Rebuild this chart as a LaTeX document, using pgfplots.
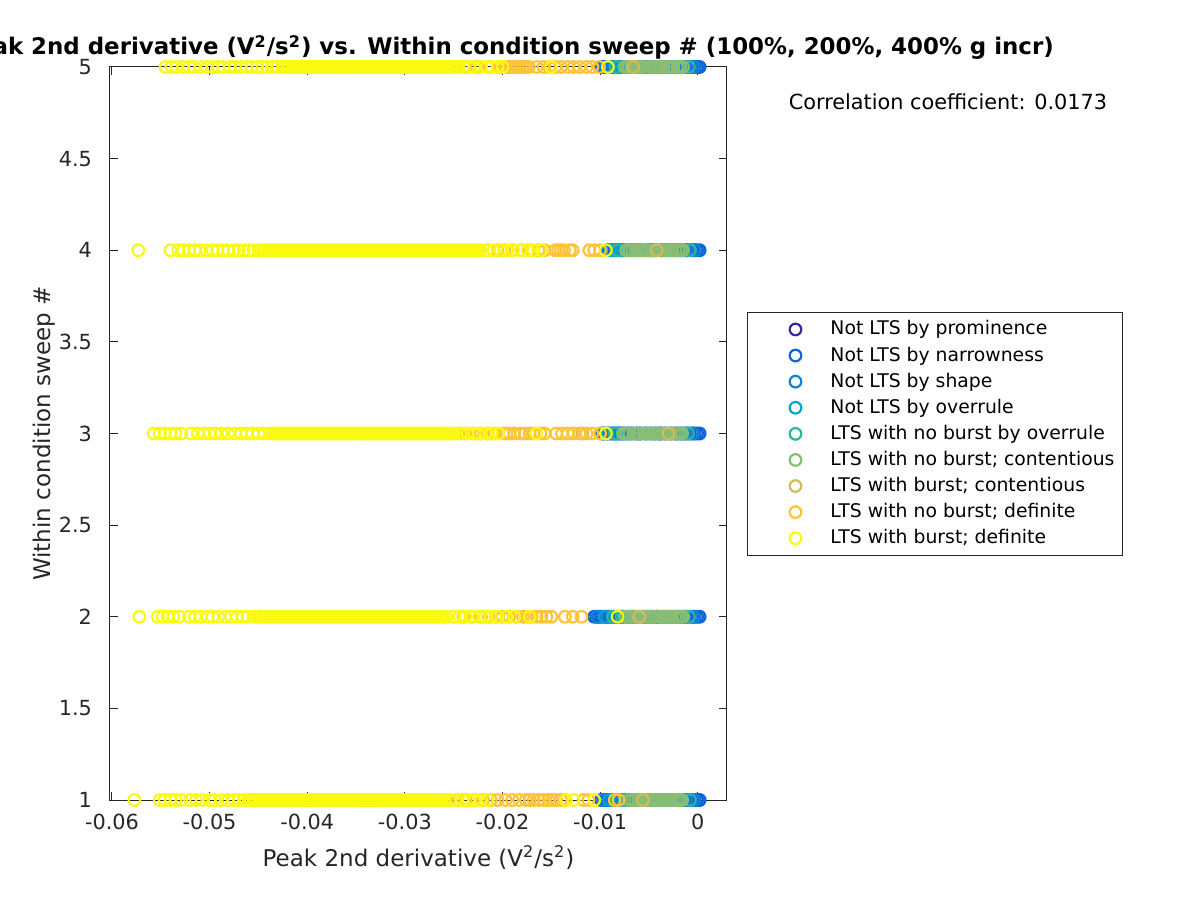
\documentclass[border=0pt]{standalone}
\usepackage{fontspec}
\setmainfont{DejaVu Sans}
\usepackage{pgfplots}
\pgfplotsset{compat=1.18}
\definecolor{c1}{HTML}{3E26A8}
\definecolor{c2}{HTML}{0A64DC}
\definecolor{c3}{HTML}{1482D4}
\definecolor{c4}{HTML}{06A4CA}
\definecolor{c5}{HTML}{2DB5A0}
\definecolor{c6}{HTML}{87BE73}
\definecolor{c7}{HTML}{D2BA5A}
\definecolor{c8}{HTML}{FEC337}
\definecolor{c9}{HTML}{F9FA0F}
\definecolor{axc}{HTML}{262626}
\pgfplotsset{sc/.style={only marks, mark=o, mark size=2.9pt, line width=1.1pt, color=#1,
  mark options={draw=#1, fill=none, line width=1.1pt, solid},
  legend image code/.code={\path[draw=none,fill=none] (0pt,-4pt) rectangle (37.5pt,4pt); \draw[##1] plot coordinates {(20pt,0pt)};}}}
\begin{document}
\begin{tikzpicture}
\begin{axis}[name=ax, scale only axis, width=308.5pt, height=366.5pt,
  xmin=-0.0602, xmax=0.003, ymin=1, ymax=5, clip=false,
  scaled x ticks=false, scaled y ticks=false,
  xtick={-0.06,-0.05,-0.04,-0.03,-0.02,-0.01,0},
  xticklabels={-0.06,-0.05,-0.04,-0.03,-0.02,-0.01,0},
  ytick={1,1.5,2,2.5,3,3.5,4,4.5,5},
  yticklabels={1,1.5,2,2.5,3,3.5,4,4.5,5},
  tick align=inside, major tick length=4pt,
  tick style={axc, line width=0.5pt}, axis line style={axc, line width=0.5pt},
  ticklabel style={font=\fontsize{10.4}{12}\selectfont, text=axc},
  xticklabel style={yshift=-3.5pt}, yticklabel style={xshift=-5.5pt},
  legend cell align=left,
  legend style={at={(1.0324,0.6658)}, anchor=north west, draw=axc, line width=0.5pt,
    inner xsep=4pt, inner ysep=3.75pt, row sep=3.55pt,
    nodes={inner sep=0pt, text height=7.5pt, text depth=2pt},
    font=\fontsize{9.4}{11}\selectfont},
]
\addplot[sc=c1] coordinates {(-0.0055,5)(-0.0047,4)(-0.0060,3)(-0.0042,2)(-0.0034,1)(-0.0028,4)(-0.0038,3)};
\addlegendentry{Not LTS by prominence}
\addplot[sc=c2] coordinates {
(-0.0098,5)(-0.00955,5)(-0.0093,5)(-0.00905,5)(-0.0088,5)(-0.00855,5)(-0.0083,5)(-0.00805,5)(-0.0078,5)(-0.00755,5)(-0.0073,5)(-0.0068,5)(-0.0063,5)(-0.0058,5)(-0.0053,5)(-0.0048,5)(-0.0043,5)(-0.0038,5)(-0.0033,5)(-0.0028,5)(-0.0023,5)(-0.0018,5)(-0.00155,5)(-0.0013,5)(-0.00105,5)(-0.0008,5)(-0.00055,5)(-0.0003,5)(-0.00005,5)(0.0002,5)
(-0.0093,4)(-0.00905,4)(-0.0088,4)(-0.00855,4)(-0.0083,4)(-0.00805,4)(-0.0078,4)(-0.00755,4)(-0.0073,4)(-0.0068,4)(-0.0063,4)(-0.0058,4)(-0.0053,4)(-0.0048,4)(-0.0043,4)(-0.0038,4)(-0.0033,4)(-0.0028,4)(-0.0023,4)(-0.0018,4)(-0.00155,4)(-0.0013,4)(-0.00105,4)(-0.0008,4)(-0.00055,4)(-0.0003,4)(-0.00005,4)(0.0002,4)
(-0.0098,3)(-0.00955,3)(-0.0093,3)(-0.00905,3)(-0.0088,3)(-0.00855,3)(-0.0083,3)(-0.00805,3)(-0.0078,3)(-0.00755,3)(-0.0073,3)(-0.0068,3)(-0.0063,3)(-0.0058,3)(-0.0053,3)(-0.0048,3)(-0.0043,3)(-0.0038,3)(-0.0033,3)(-0.0028,3)(-0.0023,3)(-0.0018,3)(-0.00155,3)(-0.0013,3)(-0.00105,3)(-0.0008,3)(-0.00055,3)(-0.0003,3)(-0.00005,3)(0.0002,3)
(-0.0106,2)(-0.01035,2)(-0.0101,2)(-0.00985,2)(-0.0096,2)(-0.00935,2)(-0.0091,2)(-0.00885,2)(-0.0086,2)(-0.00835,2)(-0.0081,2)(-0.00785,2)(-0.0076,2)(-0.0071,2)(-0.0066,2)(-0.0061,2)(-0.0056,2)(-0.0051,2)(-0.0046,2)(-0.0041,2)(-0.0036,2)(-0.0031,2)(-0.0026,2)(-0.0021,2)(-0.0018,2)(-0.00155,2)(-0.0013,2)(-0.00105,2)(-0.0008,2)(-0.00055,2)(-0.0003,2)(-0.00005,2)(0.0002,2)
(-0.0099,1)(-0.00965,1)(-0.0094,1)(-0.00915,1)(-0.0089,1)(-0.00865,1)(-0.0084,1)(-0.00815,1)(-0.0079,1)(-0.00765,1)(-0.0074,1)(-0.0069,1)(-0.0064,1)(-0.0059,1)(-0.0054,1)(-0.0049,1)(-0.0044,1)(-0.0039,1)(-0.0034,1)(-0.0029,1)(-0.0024,1)(-0.0019,1)(-0.00155,1)(-0.0013,1)(-0.00105,1)(-0.0008,1)(-0.00055,1)(-0.0003,1)(-0.00005,1)(0.0002,1)
};
\addlegendentry{Not LTS by narrowness}
\addplot[sc=c3] coordinates {
(-0.0095,5)(-0.0086,5)(-0.0079,5)(-0.0066,5)(-0.0052,5)(-0.0039,5)(-0.0026,5)(-0.0012,5)(-0.0004,5)
(-0.0091,4)(-0.0084,4)(-0.0077,4)(-0.0064,4)(-0.0050,4)(-0.0037,4)(-0.0024,4)(-0.0011,4)(-0.0003,4)
(-0.0096,3)(-0.0087,3)(-0.0080,3)(-0.0067,3)(-0.0053,3)(-0.0040,3)(-0.0027,3)(-0.0013,3)(-0.0005,3)
(-0.0103,2)(-0.0093,2)(-0.0083,2)(-0.0068,2)(-0.0054,2)(-0.0041,2)(-0.0028,2)(-0.0014,2)(-0.0004,2)
(-0.0097,1)(-0.0088,1)(-0.0080,1)(-0.0065,1)(-0.0051,1)(-0.0038,1)(-0.0025,1)(-0.0012,1)(-0.0004,1)
};
\addlegendentry{Not LTS by shape}
\addplot[sc=c4] coordinates {
(-0.0090,5)(-0.0081,5)(-0.0070,5)(-0.0044,5)(-0.0021,5)
(-0.0088,4)(-0.0079,4)(-0.0069,4)(-0.0043,4)(-0.0020,4)
(-0.0092,3)(-0.0083,3)(-0.0071,3)(-0.0045,3)(-0.0022,3)
(-0.0095,2)(-0.0086,2)(-0.0072,2)(-0.0046,2)(-0.0023,2)
(-0.0091,1)(-0.0082,1)(-0.0070,1)(-0.0044,1)(-0.0021,1)
};
\addlegendentry{Not LTS by overrule}
\addplot[sc=c5] coordinates {
(-0.0084,5)(-0.0076,5)(-0.0061,5)(-0.0047,5)(-0.0031,5)(-0.0019,5)(-0.0009,5)
(-0.0082,4)(-0.0074,4)(-0.0060,4)(-0.0046,4)(-0.0030,4)(-0.0018,4)(-0.0008,4)
(-0.0085,3)(-0.0077,3)(-0.0062,3)(-0.0048,3)(-0.0032,3)(-0.0020,3)(-0.0010,3)
(-0.0087,2)(-0.0078,2)(-0.0063,2)(-0.0049,2)(-0.0033,2)(-0.0019,2)(-0.0009,2)
(-0.0083,1)(-0.0075,1)(-0.0060,1)(-0.0046,1)(-0.0031,1)(-0.0018,1)(-0.0008,1)
};
\addlegendentry{LTS with no burst by overrule}
\addplot[sc=c6] coordinates {
(-0.0074,5)(-0.0071,5)(-0.0068,5)(-0.0064,5)(-0.0061,5)(-0.0058,5)(-0.0055,5)(-0.0050,5)(-0.0047,5)(-0.0044,5)(-0.0041,5)(-0.0038,5)(-0.0035,5)(-0.0031,5)(-0.0028,5)(-0.0025,5)(-0.0021,5)(-0.0018,5)(-0.0015,5)
(-0.0073,4)(-0.0070,4)(-0.0067,4)(-0.0064,4)(-0.0060,4)(-0.0057,4)(-0.0054,4)(-0.0051,4)(-0.0048,4)(-0.0044,4)(-0.0041,4)(-0.0038,4)(-0.0035,4)(-0.0032,4)(-0.0029,4)(-0.0026,4)(-0.0023,4)(-0.0020,4)(-0.0017,4)(-0.0015,4)
(-0.0076,3)(-0.0073,3)(-0.0070,3)(-0.0066,3)(-0.0063,3)(-0.0060,3)(-0.0056,3)(-0.0053,3)(-0.0050,3)(-0.0046,3)(-0.0043,3)(-0.0040,3)(-0.0037,3)(-0.0034,3)(-0.0031,3)(-0.0027,3)(-0.0024,3)(-0.0021,3)(-0.0018,3)(-0.0016,3)
(-0.0074,2)(-0.0071,2)(-0.0068,2)(-0.0065,2)(-0.0062,2)(-0.0058,2)(-0.0055,2)(-0.0052,2)(-0.0048,2)(-0.0045,2)(-0.0041,2)(-0.0038,2)(-0.0035,2)(-0.0032,2)(-0.0029,2)(-0.0026,2)(-0.0023,2)(-0.0020,2)(-0.0017,2)(-0.0015,2)
(-0.0070,1)(-0.0067,1)(-0.0064,1)(-0.0061,1)(-0.0058,1)(-0.0054,1)(-0.0051,1)(-0.0048,1)(-0.0045,1)(-0.0042,1)(-0.0039,1)(-0.0036,1)(-0.0033,1)(-0.0030,1)(-0.0027,1)(-0.0024,1)(-0.0021,1)(-0.0018,1)(-0.0016,1)
};
\addlegendentry{LTS with no burst; contentious}
\addplot[sc=c7] coordinates {(-0.0066,5)(-0.0042,4)(-0.0030,3)(-0.0060,2)(-0.0056,1)(-0.0118,3)};
\addlegendentry{LTS with burst; contentious}
\addplot[sc=c8] coordinates {
(-0.0238,5)(-0.0226,5)(-0.0213,5)(-0.0203,5)(-0.0197,5)(-0.0194,5)(-0.0191,5)(-0.0188,5)(-0.0185,5)(-0.0182,5)(-0.0179,5)(-0.0176,5)(-0.0173,5)(-0.0165,5)(-0.0158,5)(-0.0152,5)(-0.0146,5)(-0.0140,5)(-0.0133,5)(-0.0127,5)(-0.0121,5)(-0.0114,5)(-0.0108,5)(-0.0101,5)
(-0.0215,4)(-0.0205,4)(-0.0198,4)(-0.0190,4)(-0.0180,4)(-0.0172,4)(-0.0163,4)(-0.0157,4)(-0.0146,4)(-0.0143,4)(-0.0140,4)(-0.0137,4)(-0.0131,4)(-0.0128,4)(-0.0111,4)(-0.0106,4)(-0.0100,4)
(-0.0245,3)(-0.0238,3)(-0.0230,3)(-0.0222,3)(-0.0215,3)(-0.0208,3)(-0.0199,3)(-0.0196,3)(-0.0193,3)(-0.0188,3)(-0.0181,3)(-0.0177,3)(-0.0172,3)(-0.0168,3)(-0.0161,3)(-0.0157,3)(-0.0145,3)(-0.0139,3)(-0.0133,3)(-0.0127,3)(-0.0121,3)(-0.0114,3)(-0.0108,3)(-0.0100,3)
(-0.0250,2)(-0.0240,2)(-0.0232,2)(-0.0222,2)(-0.0214,2)(-0.0207,2)(-0.0200,2)(-0.0193,2)(-0.0186,2)(-0.0179,2)(-0.0174,2)(-0.0170,2)(-0.0165,2)(-0.0160,2)(-0.0155,2)(-0.0150,2)(-0.0136,2)(-0.0128,2)(-0.0119,2)
(-0.0255,1)(-0.0246,1)(-0.0238,1)(-0.0229,1)(-0.0220,1)(-0.0212,1)(-0.0205,1)(-0.0197,1)(-0.0190,1)(-0.0183,1)(-0.0176,1)(-0.0172,1)(-0.0168,1)(-0.0163,1)(-0.0158,1)(-0.0153,1)(-0.0149,1)(-0.0145,1)(-0.0140,1)(-0.0136,1)(-0.0117,1)(-0.0112,1)(-0.0085,1)(-0.0081,1)
};
\addlegendentry{LTS with no burst; definite}
\addplot[sc=c9] coordinates {
(-0.0545,5)(-0.0539,5)(-0.0534,5)(-0.0527,5)(-0.0521,5)(-0.0516,5)(-0.0509,5)(-0.0503,5)(-0.0497,5)(-0.0491,5)(-0.0486,5)(-0.0479,5)(-0.0474,5)(-0.0468,5)(-0.0462,5)(-0.0457,5)(-0.0451,5)(-0.0446,5)(-0.0441,5)(-0.0436,5)(-0.0431,5)
(-0.0425,5)(-0.04225,5)(-0.042,5)(-0.04175,5)(-0.0415,5)(-0.04125,5)(-0.041,5)(-0.04075,5)(-0.0405,5)(-0.04025,5)(-0.04,5)(-0.03975,5)(-0.0395,5)(-0.03925,5)(-0.039,5)(-0.03875,5)(-0.0385,5)(-0.03825,5)(-0.038,5)(-0.03775,5)(-0.0375,5)(-0.03725,5)(-0.037,5)(-0.03675,5)(-0.0365,5)(-0.03625,5)(-0.036,5)(-0.03575,5)(-0.0355,5)(-0.03525,5)(-0.035,5)(-0.03475,5)(-0.0345,5)(-0.03425,5)(-0.034,5)(-0.03375,5)(-0.0335,5)(-0.03325,5)(-0.033,5)(-0.03275,5)(-0.0325,5)(-0.03225,5)(-0.032,5)(-0.03175,5)(-0.0315,5)(-0.03125,5)(-0.031,5)(-0.03075,5)(-0.0305,5)(-0.03025,5)(-0.03,5)(-0.02975,5)(-0.0295,5)(-0.02925,5)(-0.029,5)(-0.02875,5)(-0.0285,5)(-0.02825,5)(-0.028,5)(-0.02775,5)(-0.0275,5)(-0.02725,5)(-0.027,5)(-0.02675,5)(-0.0265,5)(-0.02625,5)(-0.026,5)(-0.02575,5)(-0.0255,5)(-0.02525,5)(-0.025,5)(-0.02475,5)(-0.0245,5)
(-0.0240,5)(-0.0234,5)(-0.0229,5)(-0.0222,5)(-0.0216,5)(-0.0211,5)(-0.0205,5)(-0.0200,5)(-0.0150,5)(-0.0092,5)
(-0.0573,4)(-0.0540,4)(-0.0532,4)(-0.0527,4)(-0.0521,4)(-0.0515,4)(-0.0510,4)(-0.0503,4)(-0.0497,4)(-0.0492,4)(-0.0486,4)(-0.0481,4)(-0.0475,4)(-0.0470,4)(-0.0465,4)(-0.0460,4)(-0.0455,4)
(-0.045,4)(-0.04475,4)(-0.0445,4)(-0.04425,4)(-0.044,4)(-0.04375,4)(-0.0435,4)(-0.04325,4)(-0.043,4)(-0.04275,4)
(-0.0425,4)(-0.04225,4)(-0.042,4)(-0.04175,4)(-0.0415,4)(-0.04125,4)(-0.041,4)(-0.04075,4)(-0.0405,4)(-0.04025,4)(-0.04,4)(-0.03975,4)(-0.0395,4)(-0.03925,4)(-0.039,4)(-0.03875,4)(-0.0385,4)(-0.03825,4)(-0.038,4)(-0.03775,4)(-0.0375,4)(-0.03725,4)(-0.037,4)(-0.03675,4)(-0.0365,4)(-0.03625,4)(-0.036,4)(-0.03575,4)(-0.0355,4)(-0.03525,4)(-0.035,4)(-0.03475,4)(-0.0345,4)(-0.03425,4)(-0.034,4)(-0.03375,4)(-0.0335,4)(-0.03325,4)(-0.033,4)(-0.03275,4)(-0.0325,4)(-0.03225,4)(-0.032,4)(-0.03175,4)(-0.0315,4)(-0.03125,4)(-0.031,4)(-0.03075,4)(-0.0305,4)(-0.03025,4)(-0.03,4)(-0.02975,4)(-0.0295,4)(-0.02925,4)(-0.029,4)(-0.02875,4)(-0.0285,4)(-0.02825,4)(-0.028,4)(-0.02775,4)(-0.0275,4)(-0.02725,4)(-0.027,4)(-0.02675,4)(-0.0265,4)(-0.02625,4)(-0.026,4)(-0.02575,4)(-0.0255,4)(-0.02525,4)(-0.025,4)(-0.02475,4)(-0.0245,4)
(-0.02425,4)(-0.024,4)(-0.02375,4)(-0.0235,4)(-0.02325,4)(-0.023,4)(-0.02275,4)(-0.0225,4)(-0.02225,4)
(-0.0216,4)(-0.0209,4)(-0.0202,4)(-0.0195,4)(-0.0189,4)(-0.0181,4)(-0.0174,4)(-0.0168,4)(-0.0160,4)(-0.0094,4)
(-0.0557,3)(-0.0551,3)(-0.0546,3)(-0.0540,3)(-0.0535,3)(-0.0529,3)(-0.0519,3)(-0.0512,3)(-0.0506,3)(-0.0500,3)(-0.0494,3)(-0.0488,3)(-0.0481,3)(-0.0474,3)(-0.0468,3)(-0.0462,3)(-0.0456,3)(-0.0450,3)(-0.0444,3)
(-0.04375,3)(-0.0435,3)(-0.04325,3)(-0.043,3)(-0.04275,3)
(-0.0425,3)(-0.04225,3)(-0.042,3)(-0.04175,3)(-0.0415,3)(-0.04125,3)(-0.041,3)(-0.04075,3)(-0.0405,3)(-0.04025,3)(-0.04,3)(-0.03975,3)(-0.0395,3)(-0.03925,3)(-0.039,3)(-0.03875,3)(-0.0385,3)(-0.03825,3)(-0.038,3)(-0.03775,3)(-0.0375,3)(-0.03725,3)(-0.037,3)(-0.03675,3)(-0.0365,3)(-0.03625,3)(-0.036,3)(-0.03575,3)(-0.0355,3)(-0.03525,3)(-0.035,3)(-0.03475,3)(-0.0345,3)(-0.03425,3)(-0.034,3)(-0.03375,3)(-0.0335,3)(-0.03325,3)(-0.033,3)(-0.03275,3)(-0.0325,3)(-0.03225,3)(-0.032,3)(-0.03175,3)(-0.0315,3)(-0.03125,3)(-0.031,3)(-0.03075,3)(-0.0305,3)(-0.03025,3)(-0.03,3)(-0.02975,3)(-0.0295,3)(-0.02925,3)(-0.029,3)(-0.02875,3)(-0.0285,3)(-0.02825,3)(-0.028,3)(-0.02775,3)(-0.0275,3)(-0.02725,3)(-0.027,3)(-0.02675,3)(-0.0265,3)(-0.02625,3)(-0.026,3)(-0.02575,3)(-0.0255,3)(-0.02525,3)(-0.025,3)
(-0.0243,3)(-0.0236,3)(-0.0229,3)(-0.0224,3)(-0.0217,3)(-0.0211,3)(-0.0204,3)(-0.0165,3)(-0.0094,3)
(-0.0572,2)(-0.0553,2)(-0.0548,2)(-0.0543,2)(-0.0537,2)(-0.0531,2)(-0.0521,2)(-0.0515,2)(-0.0509,2)(-0.0502,2)(-0.0497,2)(-0.0491,2)(-0.0484,2)(-0.0478,2)(-0.0472,2)(-0.0466,2)(-0.0461,2)
(-0.0455,2)(-0.04525,2)(-0.045,2)(-0.04475,2)(-0.0445,2)(-0.04425,2)(-0.044,2)(-0.04375,2)(-0.0435,2)(-0.04325,2)(-0.043,2)(-0.04275,2)
(-0.0425,2)(-0.04225,2)(-0.042,2)(-0.04175,2)(-0.0415,2)(-0.04125,2)(-0.041,2)(-0.04075,2)(-0.0405,2)(-0.04025,2)(-0.04,2)(-0.03975,2)(-0.0395,2)(-0.03925,2)(-0.039,2)(-0.03875,2)(-0.0385,2)(-0.03825,2)(-0.038,2)(-0.03775,2)(-0.0375,2)(-0.03725,2)(-0.037,2)(-0.03675,2)(-0.0365,2)(-0.03625,2)(-0.036,2)(-0.03575,2)(-0.0355,2)(-0.03525,2)(-0.035,2)(-0.03475,2)(-0.0345,2)(-0.03425,2)(-0.034,2)(-0.03375,2)(-0.0335,2)(-0.03325,2)(-0.033,2)(-0.03275,2)(-0.0325,2)(-0.03225,2)(-0.032,2)(-0.03175,2)(-0.0315,2)(-0.03125,2)(-0.031,2)(-0.03075,2)(-0.0305,2)(-0.03025,2)(-0.03,2)(-0.02975,2)(-0.0295,2)(-0.02925,2)(-0.029,2)(-0.02875,2)(-0.0285,2)(-0.02825,2)(-0.028,2)(-0.02775,2)(-0.0275,2)(-0.02725,2)(-0.027,2)(-0.02675,2)(-0.0265,2)(-0.02625,2)(-0.026,2)(-0.02575,2)
(-0.0250,2)(-0.0244,2)(-0.0238,2)(-0.0231,2)(-0.0224,2)(-0.0218,2)(-0.0212,2)(-0.0205,2)(-0.0196,2)(-0.0188,2)(-0.0172,2)(-0.0082,2)
(-0.0577,1)(-0.0551,1)(-0.0546,1)(-0.0540,1)(-0.0535,1)(-0.0529,1)(-0.0520,1)(-0.0514,1)(-0.0508,1)(-0.0500,1)(-0.0495,1)(-0.0488,1)(-0.0481,1)(-0.0475,1)(-0.0470,1)(-0.0465,1)
(-0.046,1)(-0.04575,1)(-0.0455,1)(-0.04525,1)(-0.045,1)(-0.04475,1)(-0.0445,1)(-0.04425,1)(-0.044,1)(-0.04375,1)(-0.0435,1)(-0.04325,1)(-0.043,1)(-0.04275,1)
(-0.0425,1)(-0.04225,1)(-0.042,1)(-0.04175,1)(-0.0415,1)(-0.04125,1)(-0.041,1)(-0.04075,1)(-0.0405,1)(-0.04025,1)(-0.04,1)(-0.03975,1)(-0.0395,1)(-0.03925,1)(-0.039,1)(-0.03875,1)(-0.0385,1)(-0.03825,1)(-0.038,1)(-0.03775,1)(-0.0375,1)(-0.03725,1)(-0.037,1)(-0.03675,1)(-0.0365,1)(-0.03625,1)(-0.036,1)(-0.03575,1)(-0.0355,1)(-0.03525,1)(-0.035,1)(-0.03475,1)(-0.0345,1)(-0.03425,1)(-0.034,1)(-0.03375,1)(-0.0335,1)(-0.03325,1)(-0.033,1)(-0.03275,1)(-0.0325,1)(-0.03225,1)(-0.032,1)(-0.03175,1)(-0.0315,1)(-0.03125,1)(-0.031,1)(-0.03075,1)(-0.0305,1)(-0.03025,1)(-0.03,1)(-0.02975,1)(-0.0295,1)(-0.02925,1)(-0.029,1)(-0.02875,1)(-0.0285,1)(-0.02825,1)(-0.028,1)(-0.02775,1)(-0.0275,1)(-0.02725,1)(-0.027,1)(-0.02675,1)(-0.0265,1)(-0.02625,1)(-0.026,1)
(-0.0254,1)(-0.0248,1)(-0.0241,1)(-0.0235,1)(-0.0229,1)(-0.0222,1)(-0.0215,1)(-0.0135,1)(-0.0127,1)(-0.0106,1)
};
\addlegendentry{LTS with burst; definite}
\end{axis}
\node[anchor=base, font=\bfseries\fontsize{11.45}{14}\selectfont] at (198.5pt,372.5pt) {Peak 2nd derivative (V\textsuperscript{2}/s\textsuperscript{2}) vs. Within condition sweep \# (100\%, 200\%, 400\% g incr)};
\node[anchor=base, font=\fontsize{11.5}{13}\selectfont, text=axc] at (154.25pt,-33pt) {Peak 2nd derivative (V\textsuperscript{2}/s\textsuperscript{2})};
\node[anchor=base, rotate=90, font=\fontsize{11.5}{13}\selectfont, text=axc] at (-30pt,183.25pt) {Within condition sweep \#};
\node[anchor=base, font=\fontsize{10.4}{12}\selectfont] at (419pt,345pt) {Correlation coefficient: 0.0173};
\pgfresetboundingbox
\useasboundingbox (-55pt,-50pt) rectangle (545pt,400pt);
\end{tikzpicture}
\end{document}
